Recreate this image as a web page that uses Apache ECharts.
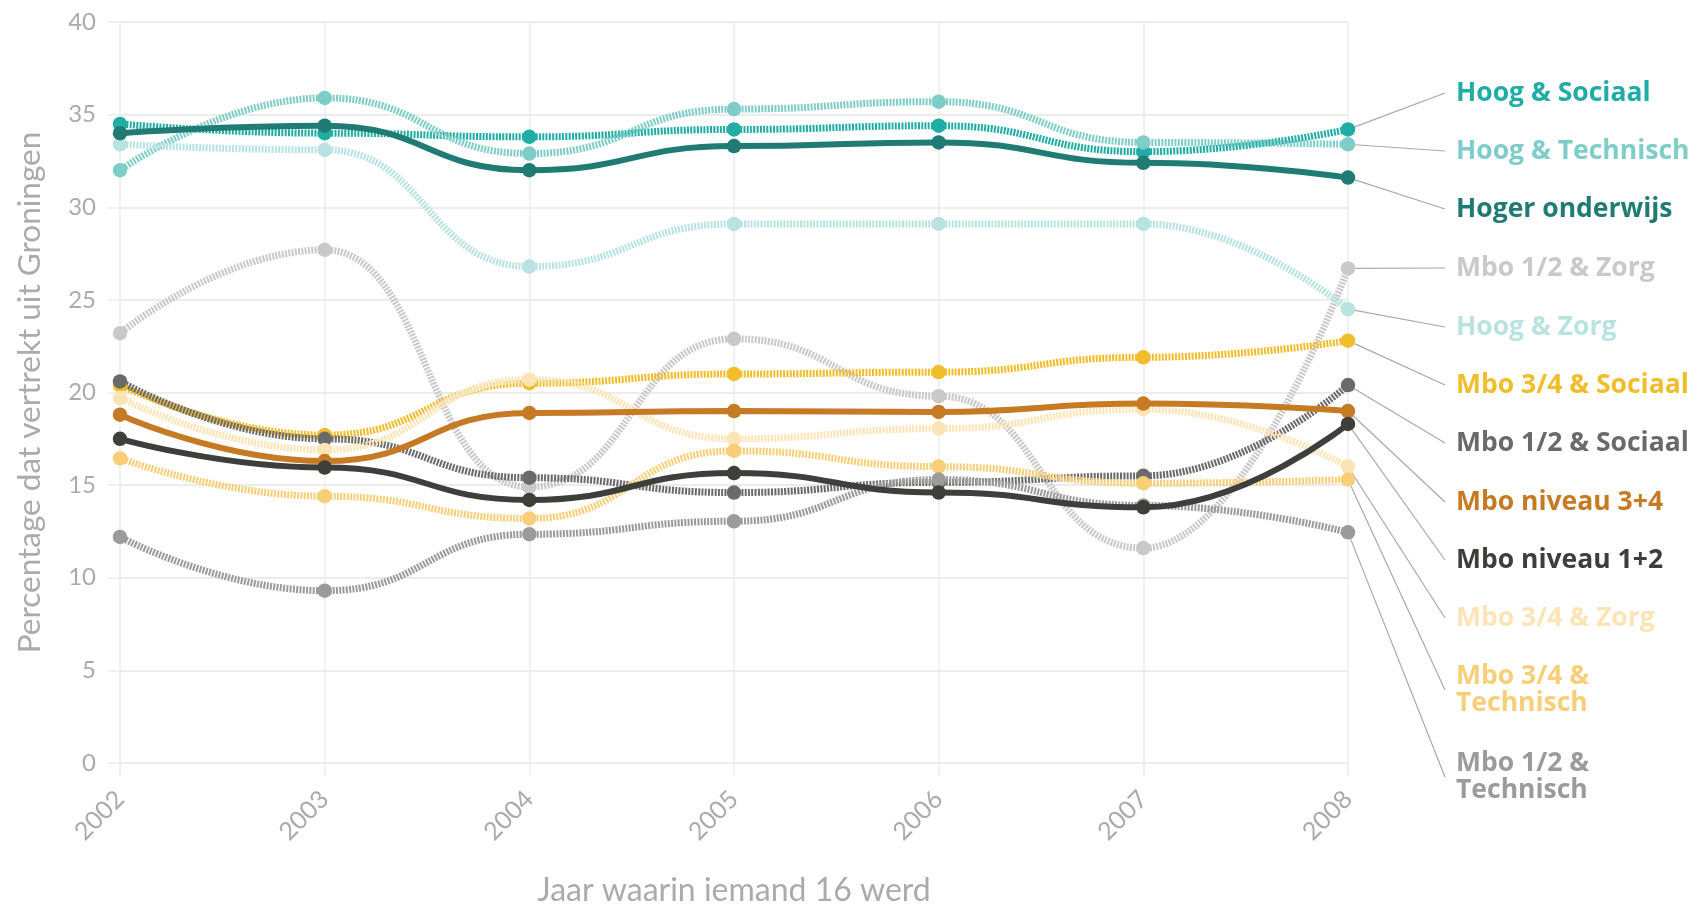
<!DOCTYPE html>
<html>
<head>
<meta charset="utf-8">
<script src="https://cdn.jsdelivr.net/npm/echarts@6/dist/echarts.min.js"></script>
<style>
html,body{margin:0;padding:0;background:#fff;}
#chart{width:1690px;height:904px;}
</style>
</head>
<body>
<div id="chart"></div>
<script>
// ---- data ----
const years = ['2002', '2003', '2004', '2005', '2006', '2007', '2008'];
const yTicks = [0, 5, 10, 15, 20, 25, 30, 35, 40];

const seriesNames = [
  'Hoog & Sociaal', 'Hoog & Technisch', 'Hoger onderwijs', 'Mbo 1/2 & Zorg',
  'Hoog & Zorg', 'Mbo 3/4 & Sociaal', 'Mbo 1/2 & Sociaal', 'Mbo niveau 3+4',
  'Mbo niveau 1+2', 'Mbo 3/4 & Zorg', 'Mbo 3/4 & Technisch', 'Mbo 1/2 & Technisch'
];
const labelTexts = [
  'Hoog & Sociaal', 'Hoog & Technisch', 'Hoger onderwijs', 'Mbo 1/2 & Zorg',
  'Hoog & Zorg', 'Mbo 3/4 & Sociaal', 'Mbo 1/2 & Sociaal', 'Mbo niveau 3+4',
  'Mbo niveau 1+2', 'Mbo 3/4 & Zorg', 'Mbo 3/4 &\nTechnisch', 'Mbo 1/2 &\nTechnisch'
];

const hoogSociaal      = [34.5, 34.0, 33.8, 34.2, 34.4, 33.0, 34.2];
const hoogTechnisch    = [32.0, 35.9, 32.9, 35.3, 35.7, 33.5, 33.4];
const hogerOnderwijs   = [34.0, 34.4, 32.0, 33.3, 33.5, 32.4, 31.6];
const mbo12Zorg        = [23.2, 27.7, 14.9, 22.9, 19.8, 11.6, 26.7];
const hoogZorg         = [33.4, 33.1, 26.8, 29.1, 29.1, 29.1, 24.5];
const mbo34Sociaal     = [20.4, 17.7, 20.5, 21.0, 21.1, 21.9, 22.8];
const mbo12Sociaal     = [20.6, 17.5, 15.4, 14.6, 15.15, 15.5, 20.4];
const mboNiveau34      = [18.8, 16.3, 18.9, 19.0, 18.95, 19.4, 19.0];
const mboNiveau12      = [17.5, 15.95, 14.2, 15.65, 14.6, 13.8, 18.3];
const mbo34Zorg        = [19.7, 16.9, 20.7, 17.5, 18.05, 19.1, 16.0];
const mbo34Technisch   = [16.45, 14.4, 13.2, 16.85, 16.0, 15.1, 15.3];
const mbo12Technisch   = [12.2, 9.3, 12.35, 13.05, 15.3, 13.9, 12.45];

const allValues = [hoogSociaal, hoogTechnisch, hogerOnderwijs, mbo12Zorg, hoogZorg,
  mbo34Sociaal, mbo12Sociaal, mboNiveau34, mboNiveau12, mbo34Zorg, mbo34Technisch, mbo12Technisch];

// ---- styling ----
const colors = ['#1fada5', '#7fcdc8', '#1f7b74', '#c9c9c9', '#b9e3e1', '#f2bd2b',
  '#6a6a6a', '#c67a24', '#3e3f3b', '#fde4b6', '#f8cf78', '#9b9b9b'];
const solid = [false, false, true, false, false, false, false, true, true, false, false, false];
const labelY = [93, 151, 209, 268, 327, 385, 443, 502, 560, 618, 690, 777];

const FONT = 'Lato, "Source Sans Pro", "Open Sans", sans-serif';
const LABEL_FONT = '"Open Sans", Lato, sans-serif';
const GREY = '#ababab';
const GRID = '#ececec';

const chart = echarts.init(document.getElementById('chart'), null, {renderer: 'canvas'});

const series = seriesNames.map((name, k) => {
  const vals = allValues[k];
  return {
    type: 'line',
    name: name,
    smooth: 0.5,
    smoothMonotone: 'x',
    symbol: 'circle',
    symbolSize: 14.5,
    z: solid[k] ? 4 : 2,
    lineStyle: {
      color: colors[k],
      width: solid[k] ? 6 : 7,
      type: solid[k] ? 'solid' : [2, 1.3],
      cap: 'butt'
    },
    itemStyle: {color: colors[k]},
    emphasis: {disabled: true},
    data: vals.map((v, i) => i === vals.length - 1
      ? {value: v, label: {show: true}}
      : v),
    label: {
      show: false,
      formatter: labelTexts[k],
      color: colors[k],
      fontFamily: LABEL_FONT,
      fontWeight: 'bold',
      fontSize: 26.5,
      lineHeight: 27,
      padding: [0, 0, 0, 11]
    },
    labelLayout: {x: 1445, y: labelY[k], align: 'left', verticalAlign: 'middle'},
    labelLine: {show: true, smooth: false, lineStyle: {color: '#a9a9a9', width: 1.2}}
  };
});

chart.setOption({
  animation: false,
  backgroundColor: '#ffffff',
  grid: {left: 120, right: 342, top: 22, bottom: 141, containLabel: false, outerBoundsMode: 'none'},
  xAxis: {
    type: 'category',
    data: years,
    boundaryGap: false,
    name: 'Jaar waarin iemand 16 werd',
    nameLocation: 'middle',
    nameGap: 112,
    nameTextStyle: {color: GREY, fontFamily: FONT, fontSize: 32},
    axisLine: {show: true, lineStyle: {color: GRID, width: 2}},
    axisTick: {show: true, length: 12, alignWithLabel: true, lineStyle: {color: GRID, width: 1.5}},
    splitLine: {show: true, lineStyle: {color: GRID, width: 1.5}},
    axisLabel: {color: GREY, fontFamily: FONT, fontSize: 25, rotate: 45, margin: 32}
  },
  yAxis: {
    type: 'value',
    min: yTicks[0],
    max: yTicks[yTicks.length - 1],
    interval: yTicks[1] - yTicks[0],
    name: 'Percentage dat vertrekt uit Groningen',
    nameLocation: 'middle',
    nameGap: 74,
    nameTextStyle: {color: GREY, fontFamily: FONT, fontSize: 31.5},
    axisLine: {show: false},
    axisTick: {show: true, length: 12, lineStyle: {color: GRID, width: 1.5}},
    splitLine: {show: true, lineStyle: {color: GRID, width: 2}},
    axisLabel: {color: GREY, fontFamily: FONT, fontSize: 24, margin: 24}
  },
  series: series
});
</script>
</body>
</html>
